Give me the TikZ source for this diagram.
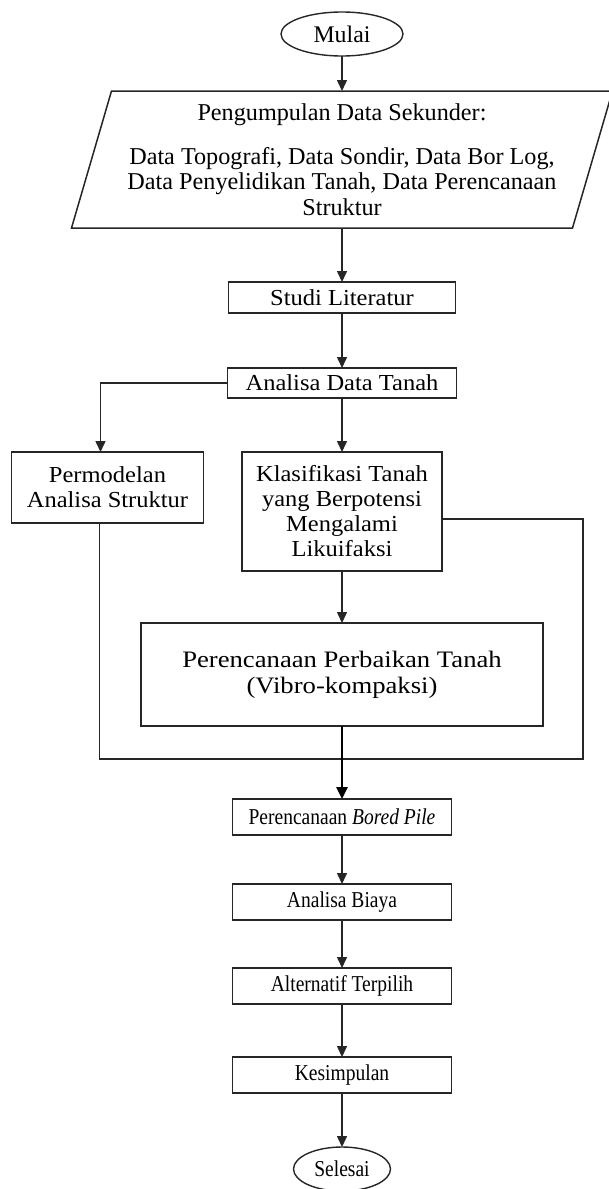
\documentclass[tikz,border=0pt]{standalone}
\usepackage{fontspec}
\setmainfont{Liberation Serif}
\newfontfamily\widefont[FakeStretch=1.07]{Liberation Serif}
\newfontfamily\widerfont[FakeStretch=1.13]{Liberation Serif}
\newfontfamily\narrowfont[FakeStretch=0.86]{Liberation Serif}
\usetikzlibrary{positioning, arrows.meta, shapes.geometric}
\tikzset{
  termbox/.style={ellipse, draw=black!85, line width=1.4pt, inner sep=0pt,
                  outer sep=0pt, minimum height=44pt, align=center},
  inbox/.style={rectangle, draw=none, inner sep=0pt, outer sep=0pt,
                minimum width=501pt, minimum height=137pt, align=center,
                font=\fontsize{24.2}{25.5}\selectfont},
  procbox/.style={rectangle, draw=black!85, line width=1.6pt, inner sep=0pt,
                  outer sep=0pt, align=center,
                  font=\widefont\fontsize{22.9}{25}\selectfont},
  bigbox/.style={rectangle, draw=black!85, line width=1.6pt, inner sep=0pt,
                 outer sep=0pt, align=center,
                 font=\widerfont\fontsize{23.6}{26}\selectfont},
  stepbox/.style={rectangle, draw=black!85, line width=1.6pt, inner sep=0pt,
                  outer sep=0pt, minimum width=219pt, minimum height=36pt,
                  align=center, font=\narrowfont\fontsize{22.7}{25}\selectfont},
  link/.style={line width=1.5pt, draw=black!85},
  myarr/.style={-{Triangle[length=11pt, width=10pt]}, line width=1.5pt, draw=black!85},
  boldarr/.style={-{Triangle[length=12pt, width=11pt]}, line width=2.8pt, draw=black},
}
\begin{document}
\begin{tikzpicture}[x=1pt, y=1pt]
  \useasboundingbox (0,0) rectangle (608,-1189);

  %% Start
  \node[termbox, minimum width=122pt, font=\fontsize{23.8}{25}\selectfont]
    (mulai) at (342,-34) {Mulai};

  %% Secondary data (parallelogram)
  \node[inbox, below=35pt of mulai] (data)
    {Pengumpulan Data Sekunder:\\[18pt]
     Data Topografi, Data Sondir, Data Bor Log,\\
     Data Penyelidikan Tanah, Data Perencanaan\\
     Struktur};
  \draw[link] ([xshift=20pt]data.north west) -- ([xshift=20pt]data.north east)
    -- ([xshift=-20pt]data.south east) -- ([xshift=-20pt]data.south west) -- cycle;

  %% Literature and soil analysis
  \node[procbox, below=54pt of data, minimum width=227pt, minimum height=31pt]
    (studi) {Studi Literatur};
  \node[procbox, below=55pt of studi, minimum width=229pt, minimum height=30pt]
    (analisa) {Analisa Data Tanah};

  %% Two branches
  \node[procbox, below=54pt of analisa, minimum width=200pt, minimum height=119pt]
    (klas) {Klasifikasi Tanah\\yang Berpotensi\\Mengalami\\Likuifaksi};
  \node[procbox, below left=54pt and 24pt of analisa, minimum width=192pt,
        minimum height=71pt] (model) {Permodelan\\Analisa Struktur};

  %% Ground improvement
  \node[bigbox, below=52pt of klas, minimum width=402pt, minimum height=103pt]
    (perbaikan) {Perencanaan Perbaikan Tanah\\(Vibro-kompaksi)};

  %% Lower chain
  \node[stepbox, below=73pt of perbaikan] (bored) {Perencanaan \textit{Bored Pile}};
  \node[stepbox, below=49pt of bored] (biaya) {Analisa Biaya};
  \node[stepbox, below=48pt of biaya] (pilih) {Alternatif Terpilih};
  \node[stepbox, below=53pt of pilih] (simpul) {Kesimpulan};
  \node[termbox, below=54pt of simpul, minimum width=97pt,
        font=\narrowfont\fontsize{22.7}{25}\selectfont] (selesai) {Selesai};

  %% Joining lines
  \coordinate[right=141pt of klas.east, yshift=-7.5pt] (turn);
  \coordinate[below=33pt of perbaikan.south] (join);
  \draw[link] ([xshift=-8pt]model.south) |- (join) -| (turn)
    -- ([yshift=-7.5pt]klas.east);

  %% Arrows
  \draw[myarr] (mulai) -- (data);
  \draw[myarr] (data) -- (studi);
  \draw[myarr] (studi) -- (analisa);
  \draw[myarr] (analisa) -- (klas);
  \draw[myarr] (analisa.west) -| ([xshift=-7pt]model.north);
  \draw[myarr] (klas) -- (perbaikan);
  \draw[boldarr] (perbaikan) -- (bored);
  \draw[myarr] (bored) -- (biaya);
  \draw[myarr] (biaya) -- (pilih);
  \draw[myarr] (pilih) -- (simpul);
  \draw[myarr] (simpul) -- (selesai);

\end{tikzpicture}
\end{document}
